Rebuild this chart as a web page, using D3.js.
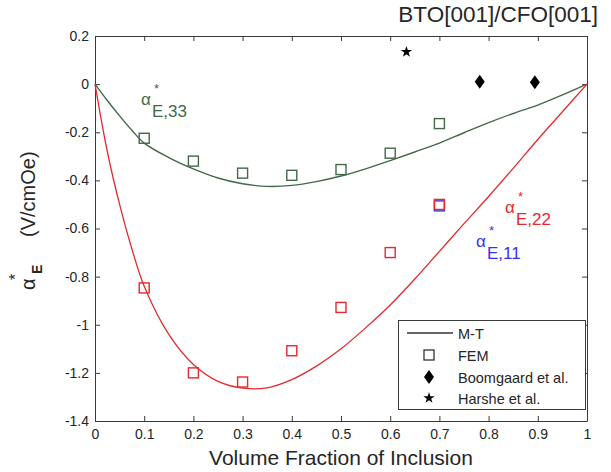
<!DOCTYPE html>
<html>
<head>
<meta charset="utf-8">
<script src="https://cdn.jsdelivr.net/npm/d3@7"></script>
<style>
  body { margin: 0; background: #fff; }
  svg text { font-family: "Liberation Sans", Arial, sans-serif; }
</style>
</head>
<body>
<svg id="chart" width="611" height="472"></svg>
<script>
// Mori-Tanaka curves sampled over the inclusion volume fraction
const fraction = [0, 0.025, 0.05, 0.075, 0.1, 0.15, 0.2, 0.25, 0.3, 0.35, 0.4, 0.45, 0.5,
                  0.55, 0.6, 0.65, 0.7, 0.75, 0.8, 0.85, 0.9, 0.95, 1];
const mtE33 = [0, -0.068, -0.132, -0.192, -0.245, -0.305, -0.352, -0.39, -0.414, -0.425, -0.421,
               -0.405, -0.382, -0.352, -0.318, -0.282, -0.245, -0.202, -0.16, -0.122, -0.087, -0.045, 0];
const mtE22 = [0, -0.28, -0.5, -0.685, -0.84, -1.04, -1.165, -1.235, -1.263, -1.262, -1.228,
               -1.172, -1.10, -1.013, -0.918, -0.81, -0.695, -0.58, -0.467, -0.35, -0.23, -0.115, 0];

// FEM results
const femFraction = [0.1, 0.2, 0.3, 0.4, 0.5, 0.6, 0.7];
const femE33 = [-0.225, -0.32, -0.37, -0.379, -0.355, -0.287, -0.164];
const femE22 = [-0.847, -1.2, -1.238, -1.108, -0.928, -0.70, -0.50];
const femE11Fraction = [0.7];
const femE11 = [-0.506];

// Experimental data
const boomgaardFraction = [0.782, 0.894];
const boomgaardValues = [0.01, 0.008];
const harsheFraction = [0.633];
const harsheValues = [0.134];

// Axis ticks
const xTickValues = [0, 0.1, 0.2, 0.3, 0.4, 0.5, 0.6, 0.7, 0.8, 0.9, 1];
const xTickLabels = ["0", "0.1", "0.2", "0.3", "0.4", "0.5", "0.6", "0.7", "0.8", "0.9", "1"];
const yTickValues = [-1.4, -1.2, -1, -0.8, -0.6, -0.4, -0.2, 0, 0.2];
const yTickLabels = ["-1.4", "-1.2", "-1", "-0.8", "-0.6", "-0.4", "-0.2", "0", "0.2"];

const colors = { e33: "#44684a", e22: "#e42a2c", e11: "#3333f2", axis: "#3a3a3a", text: "#262626" };

const svg = d3.select("#chart");
const plotLeft = 95, plotRight = 587, plotTop = 36, plotBottom = 421;

const x = d3.scaleLinear().domain([0, 1]).range([plotLeft, plotRight]);
const y = d3.scaleLinear().domain([-1.4, 0.2]).range([plotBottom, plotTop]);

// Axes with inward ticks on all four sides
const fmtX = d => xTickLabels[xTickValues.indexOf(d)];
const fmtY = d => yTickLabels[yTickValues.indexOf(d)];

function styleAxis(g) {
  g.selectAll("path, line").attr("stroke", colors.axis).attr("stroke-width", 1);
  g.selectAll("text").attr("fill", colors.text).style("font-size", "14px");
}

svg.append("g").attr("transform", `translate(0,${plotBottom})`)
  .call(d3.axisBottom(x).tickValues(xTickValues).tickFormat(fmtX).tickSizeInner(-5).tickSizeOuter(0).tickPadding(8))
  .call(styleAxis);
svg.append("g").attr("transform", `translate(0,${plotTop})`)
  .call(d3.axisTop(x).tickValues(xTickValues).tickFormat("").tickSizeInner(-5).tickSizeOuter(0))
  .call(styleAxis);
svg.append("g").attr("transform", `translate(${plotLeft},0)`)
  .call(d3.axisLeft(y).tickValues(yTickValues).tickFormat(fmtY).tickSizeInner(-5).tickSizeOuter(0).tickPadding(6))
  .call(styleAxis);
svg.append("g").attr("transform", `translate(${plotRight},0)`)
  .call(d3.axisRight(y).tickValues(yTickValues).tickFormat("").tickSizeInner(-5).tickSizeOuter(0))
  .call(styleAxis);

// Mori-Tanaka curves
const line = d3.line().x(d => x(d[0])).y(d => y(d[1])).curve(d3.curveCatmullRom.alpha(0.5));
svg.append("path").datum(d3.zip(fraction, mtE33))
  .attr("d", line).attr("fill", "none").attr("stroke", colors.e33).attr("stroke-width", 1.4);
svg.append("path").datum(d3.zip(fraction, mtE22))
  .attr("d", line).attr("fill", "none").attr("stroke", colors.e22).attr("stroke-width", 1.3);

// FEM squares
const sq = 10;
function squares(xs, ys, color) {
  svg.append("g").selectAll("rect").data(d3.zip(xs, ys)).join("rect")
    .attr("x", d => x(d[0]) - sq / 2).attr("y", d => y(d[1]) - sq / 2)
    .attr("width", sq).attr("height", sq)
    .attr("fill", "none").attr("stroke", color).attr("stroke-width", 1.4);
}
squares(femE11Fraction, femE11, colors.e11);
squares(femFraction, femE33, colors.e33);
squares(femFraction, femE22, colors.e22);

// Experimental markers
const diamond = "M0,-7L5,0L0,7L-5,0Z";
svg.append("g").selectAll("path").data(d3.zip(boomgaardFraction, boomgaardValues)).join("path")
  .attr("d", diamond).attr("transform", d => `translate(${x(d[0])},${y(d[1])})`).attr("fill", "#000");
const star = d3.symbol(d3.symbolStar, 40)();
svg.append("g").selectAll("path").data(d3.zip(harsheFraction, harsheValues)).join("path")
  .attr("d", star).attr("transform", d => `translate(${x(d[0])},${y(d[1])})`).attr("fill", "#000");

// Curve labels: alpha*_E,ij
function alphaLabel(ax, ay, sub, color) {
  const g = svg.append("g").attr("fill", color);
  g.append("text").attr("x", ax).attr("y", ay).style("font-size", "17px").text("α");
  g.append("text").attr("x", ax + 13).attr("y", ay - 12).style("font-size", "13px").text("*");
  g.append("text").attr("x", ax + 11).attr("y", ay + 12).style("font-size", "17px").text(sub);
}
alphaLabel(141, 105, "E,33", colors.e33);
alphaLabel(505, 213, "E,22", colors.e22);
alphaLabel(476, 247, "E,11", colors.e11);

// Title
svg.append("text").attr("x", 598).attr("y", 22).attr("text-anchor", "end")
  .attr("fill", colors.text).style("font-size", "22.5px").text("BTO[001]/CFO[001]");

// X axis title
svg.append("text").attr("x", x(0.5)).attr("y", 465).attr("text-anchor", "middle")
  .attr("fill", colors.text).style("font-size", "21px").text("Volume Fraction of Inclusion");

// Y axis title (rotated)
const yt = svg.append("g").attr("transform", "translate(35,290) rotate(-90)").attr("fill", colors.text);
yt.append("text").attr("x", 0).attr("y", 0).style("font-size", "20px").text("α");
yt.append("text").attr("x", 10).attr("y", -14).style("font-size", "16px").text("*");
yt.append("text").attr("x", 16).attr("y", 7).style("font-size", "14px").style("font-weight", "bold").text("E");
yt.append("text").attr("x", 53).attr("y", 0).style("font-size", "20px").text("(V/cmOe)");

// Legend
const lg = svg.append("g");
lg.append("rect").attr("x", 398.5).attr("y", 320.5).attr("width", 187).attr("height", 89)
  .attr("fill", "#fff").attr("stroke", colors.axis).attr("stroke-width", 1);
const legendItems = ["M-T", "FEM", "Boomgaard et al.", "Harshe et al."];
const rowY = [333, 355, 377, 398];
legendItems.forEach((label, i) => {
  lg.append("text").attr("x", 458).attr("y", rowY[i] + 5.5).attr("fill", colors.text)
    .style("font-size", "14.5px").text(label);
});
lg.append("line").attr("x1", 407).attr("x2", 453).attr("y1", rowY[0]).attr("y2", rowY[0])
  .attr("stroke", "#333").attr("stroke-width", 1.3);
lg.append("rect").attr("x", 429 - 5).attr("y", rowY[1] - 5).attr("width", 10).attr("height", 10)
  .attr("fill", "none").attr("stroke", "#333").attr("stroke-width", 1.3);
lg.append("path").attr("d", diamond).attr("transform", `translate(429,${rowY[2]})`).attr("fill", "#000");
lg.append("path").attr("d", star).attr("transform", `translate(429,${rowY[3]})`).attr("fill", "#000");
</script>
</body>
</html>
